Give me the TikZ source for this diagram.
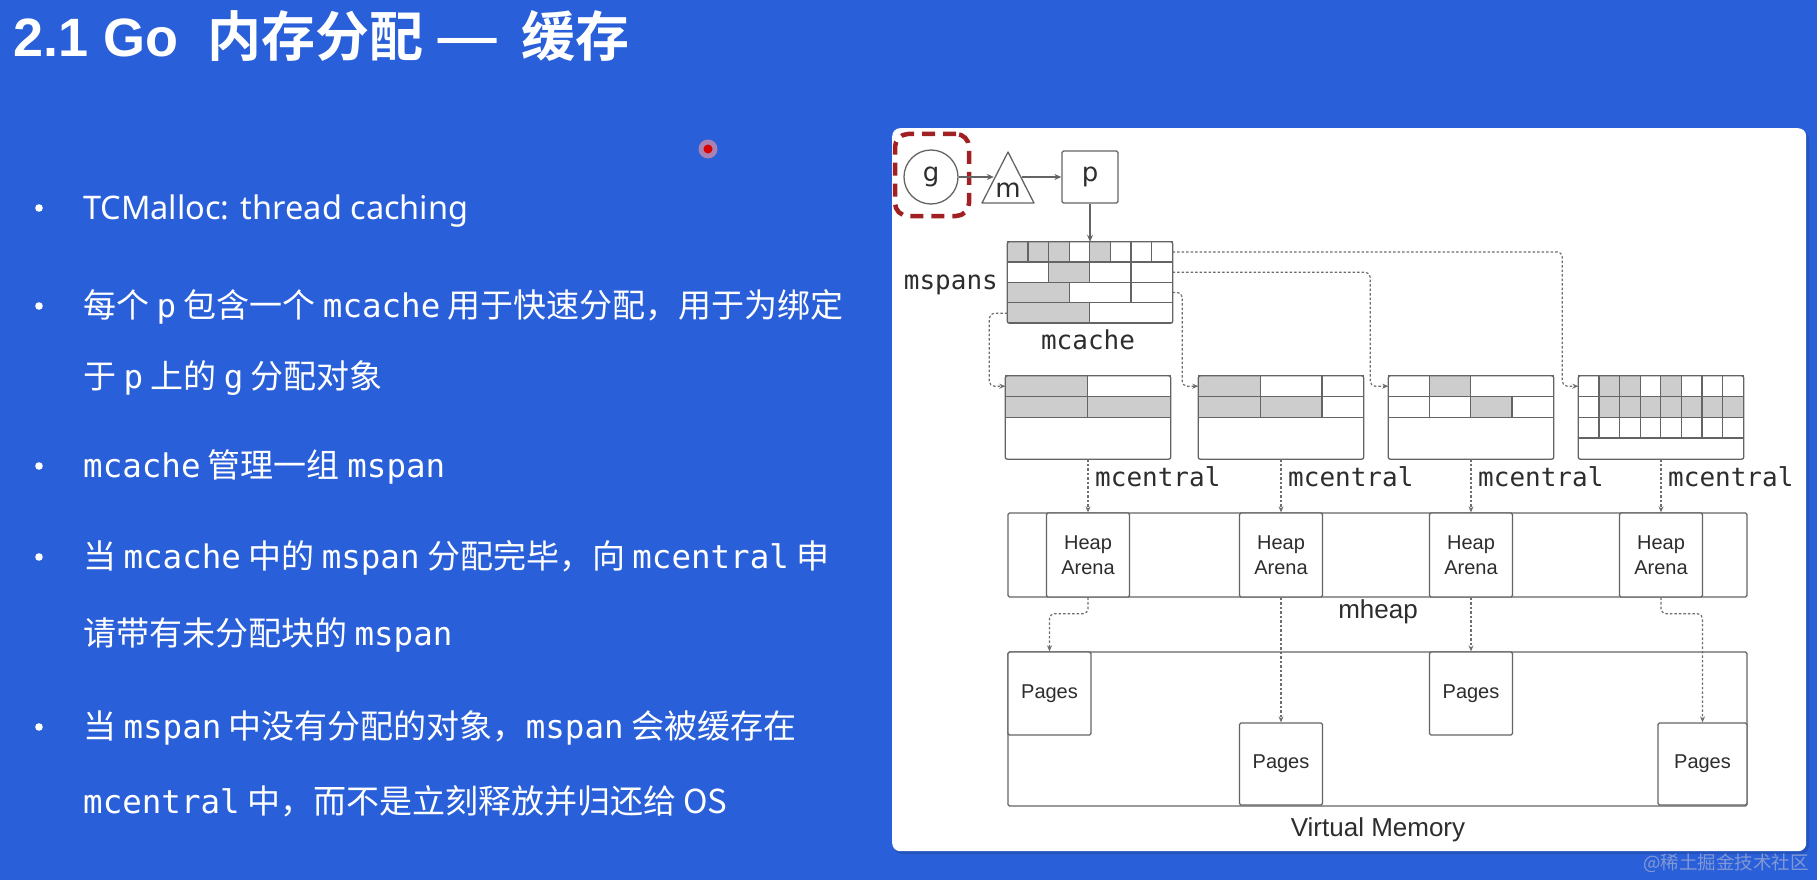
\documentclass[tikz,border=0pt]{standalone}
\usepackage{fontspec}
\setmainfont{Liberation Sans}
\newfontfamily\cjkf{Noto Sans CJK SC}[BoldFont={Noto Sans CJK SC Bold}]
\newfontfamily\codef{DejaVu Sans Mono}
\newfontfamily\latf{Noto Sans}
\newfontfamily\dvs{DejaVu Sans}
\usetikzlibrary{arrows.meta,calc}
\definecolor{bgblue}{RGB}{41,95,216}
\definecolor{linec}{RGB}{100,100,100}
\definecolor{dashcol}{RGB}{110,110,110}
\definecolor{cg}{RGB}{205,205,205}
\definecolor{cw}{RGB}{255,255,255}
\definecolor{txtc}{RGB}{45,45,45}
\definecolor{redc}{RGB}{160,32,36}
\definecolor{wmc}{RGB}{130,152,214}
\def\cellw{20.625}
\newcommand\cellrow[3]{\foreach \x/\w/\f in {#3} \draw[cellst, fill=\f] (\x*\cellw,#1*#2) rectangle ++(\w*\cellw,#2);}
\newcommand\cdw[1]{{\codef\fontsize{32.5}{38}\selectfont #1}}
\begin{document}
\begin{tikzpicture}[x=1pt,y=-1pt,
  ln/.style={draw=linec, line width=1.3pt},
  boxn/.style={rectangle, inner sep=0pt},
  boxd/.style={ln, fill=white, rectangle, rounded corners=1.5pt, inner sep=0pt},
  cellst/.style={draw=linec, line width=1.3pt},
  dashc/.style={draw=dashcol, line width=1.2pt, dash pattern=on 2.5pt off 2pt, rounded corners=5pt, -{Stealth[length=6pt,width=5pt]}},
  arr/.style={draw=linec, line width=1.2pt, -{Stealth[length=7pt,width=6pt]}},
  monolbl/.style={font=\codef\fontsize{26}{30}\selectfont, text=txtc, inner sep=0pt},
  sanslbl/.style={font=\fontsize{20}{25}\selectfont, text=txtc, align=center, inner sep=0pt},
  biglbl/.style={font=\fontsize{26}{30}\selectfont, text=txtc, inner sep=0pt},
  gmp/.style={font=\dvs\fontsize{26}{30}\selectfont, text=txtc},
  bodytxt/.style={font=\cjkf\fontsize{33}{38}\selectfont, text=white, anchor=base west, inner sep=0pt},
  ttl/.style={text=white, anchor=base west, inner sep=0pt}
]
\useasboundingbox (0,0) rectangle (1817,880);
\fill[bgblue] (0,0) rectangle (1817,880);

% title
\node[ttl, font=\bfseries\fontsize{54}{60}\selectfont] (tt1) at (13,57) {2.1 Go};
\node[ttl, font=\cjkf\bfseries\fontsize{54}{60}\selectfont] (tt2) at (207,57) {内存分配};
\node[ttl, font=\cjkf\bfseries\fontsize{54}{60}\selectfont] (tt3) at (434,57) {\scalebox{1.35}[1]{—}};
\node[ttl, font=\cjkf\bfseries\fontsize{54}{60}\selectfont] (tt4) at (521,57) {缓存};

% laser dot
\fill[red!40!white, opacity=0.6] (708,149) circle (9.5);
\fill[red!85!black] (708,149) circle (4.5);

% bullets
\foreach \yy in {208,306,466,557,727} \fill[white] (39,\yy) circle (3.8);
\node[bodytxt, font=\latf\fontsize{32.5}{38}\selectfont] (t1) at (83,219) {TCMalloc: thread caching};
\node[bodytxt] (t2) at (83,317) {每个 \cdw{p} 包含一个 \cdw{mcache} 用于快速分配，用于为绑定};
\node[bodytxt] (t3) at (83,388) {于 \cdw{p} 上的 \cdw{g} 分配对象};
\node[bodytxt] (t4) at (83,477) {\cdw{mcache} 管理一组 \cdw{mspan}};
\node[bodytxt] (t5) at (83,568) {当 \cdw{mcache} 中的 \cdw{mspan} 分配完毕，向 \cdw{mcentral} 申};
\node[bodytxt] (t6) at (83,645) {请带有未分配块的 \cdw{mspan}};
\node[bodytxt] (t7) at (83,738) {当 \cdw{mspan} 中没有分配的对象，\cdw{mspan} 会被缓存在};
\node[bodytxt] (t8) at (83,813) {\cdw{mcentral} 中，而不是立刻释放并归还给 OS};

% panel
\fill[black, opacity=0.12, rounded corners=8pt] (894,131) rectangle (1809,854);
\node[fill=white, rounded corners=8pt, minimum width=914, minimum height=723, inner sep=0pt, anchor=north west] (panel) at (892,128) {};

% g m p
\node[draw=redc, line width=4.5pt, dash pattern=on 13pt off 8pt, rounded corners=13pt, minimum width=74, minimum height=82, inner sep=0pt] (gsel) at (932,175) {};
\node[gmp, circle, ln, minimum size=54, inner sep=0pt] (g) at (931,177) {g};
\draw[ln, line join=round] (1008,152) -- (982,203) -- (1034,203) -- cycle;
\node[boxn, minimum width=28, minimum height=2] (m) at (1008,177) {};
\node[gmp, inner sep=0pt] (mlab) at (1008,190) {m};
\node[gmp, boxd, minimum width=56, minimum height=52] (p) at (1090,177) {p};
\draw[arr] (g) -- (m);
\draw[arr] (m) -- (p);

% mcache
\node[boxn, minimum width=165, minimum height=81] (mc) at (1090,282.5) {};
\begin{scope}[shift={(mc.north west)}]
  \cellrow{0}{20.25}{0/1/cg,1/1/cg,2/1/cg,3/1/cw,4/1/cg,5/1/cw,6/1/cw,7/1/cw}
  \cellrow{1}{20.25}{0/2/cw,2/2/cg,4/2/cw,6/2/cw}
  \cellrow{2}{20.25}{0/3/cg,3/3/cw,6/2/cw}
  \cellrow{3}{20.25}{0/4/cg,4/4/cw}
\end{scope}
\draw[ln, rounded corners=2pt] (mc.north west) rectangle (mc.south east);
\draw[arr] (p) -- (mc);
\node[monolbl, anchor=east] (msp) at (998,285) {mspans};
\node[monolbl] (mcl) at (1088,340) {mcache};

% mcentral boxes
\foreach \i/\xx in {1/1088,2/1281,3/1471,4/1661}
  \node[boxn, minimum width=165, minimum height=83] (c\i) at (\xx,417.5) {};
\begin{scope}[shift={(c1.north west)}]
  \cellrow{0}{20.75}{0/4/cg,4/4/cw}
  \cellrow{1}{20.75}{0/4/cg,4/4/cg}
\end{scope}
\begin{scope}[shift={(c2.north west)}]
  \cellrow{0}{20.75}{0/3/cg,3/3/cw,6/2/cw}
  \cellrow{1}{20.75}{0/3/cg,3/3/cg,6/2/cw}
\end{scope}
\begin{scope}[shift={(c3.north west)}]
  \cellrow{0}{20.75}{0/2/cw,2/2/cg,4/4/cw}
  \cellrow{1}{20.75}{0/2/cw,2/2/cw,4/2/cg,6/2/cw}
\end{scope}
\begin{scope}[shift={(c4.north west)}]
  \cellrow{0}{20.75}{0/1/cw,1/1/cg,2/1/cg,3/1/cw,4/1/cg,5/1/cw,6/1/cw,7/1/cw}
  \cellrow{1}{20.75}{0/1/cw,1/1/cg,2/1/cg,3/1/cg,4/1/cg,5/1/cg,6/1/cg,7/1/cg}
  \cellrow{2}{20.75}{0/1/cw,1/1/cw,2/1/cw,3/1/cw,4/1/cw,5/1/cw,6/1/cw,7/1/cw}
\end{scope}
\foreach \i in {1,2,3,4}
  \draw[ln, rounded corners=2pt] (c\i.north west) rectangle (c\i.south east);

% mcache -> mcentral
\draw[dashc] ($(mc.south west)+(0,-10)$) -- ++(-18,0) |- ($(c1.north west)+(0,10.4)$);
\draw[dashc] ($(mc.north east)+(0,50.6)$) -- ++(9.5,0) |- ($(c2.north west)+(0,10.4)$);
\draw[dashc] ($(mc.north east)+(0,30.4)$) -- ++(197.5,0) |- ($(c3.north west)+(0,10.4)$);
\draw[dashc] ($(mc.north east)+(0,10.1)$) -- ++(389.5,0) |- ($(c4.north west)+(0,10.4)$);

% mcentral labels
\foreach \i/\xx in {1/1095,2/1288,3/1478,4/1668}
  \node[monolbl, anchor=west] (lc\i) at (\xx,477) {mcentral};

% mheap
\node[boxd, minimum width=739, minimum height=84] (mh) at (1377.5,555) {};
\foreach \i/\xx in {1/1088,2/1281,3/1471,4/1661}
  \node[boxd, sanslbl, minimum width=83, minimum height=84] (a\i) at (\xx,555) {Heap\\Arena};
\node[biglbl] (mhl) at (1378,612) {mheap};
\foreach \i in {1,2,3,4}
  \draw[dashc] (c\i) -- (a\i);

% virtual memory
\node[boxd, minimum width=739, minimum height=154] (vm) at (1377.5,729) {};
\node[boxd, sanslbl, minimum width=83, minimum height=83] (p1) at (1049.5,693.5) {Pages};
\node[boxd, sanslbl, minimum width=83, minimum height=82] (p2) at (1281,764) {Pages};
\node[boxd, sanslbl, minimum width=83, minimum height=83] (p3) at (1471,693.5) {Pages};
\node[boxd, sanslbl, minimum width=89, minimum height=82] (p4) at (1702.5,764) {Pages};
\node[biglbl] (vml) at (1378,830) {Virtual Memory};

\draw[dashc] (a1.south) -- ++(0,16) -| (p1.north);
\draw[dashc] (a2) -- (p2);
\draw[dashc] (a3) -- (p3);
\draw[dashc] (a4.south) -- ++(0,16) -| (p4.north);

% watermark
\node[anchor=east, font=\cjkf\fontsize{18.5}{22}\selectfont, text=wmc, inner sep=0pt] (wm) at (1809,863) {@稀土掘金技术社区};
\end{tikzpicture}
\end{document}
